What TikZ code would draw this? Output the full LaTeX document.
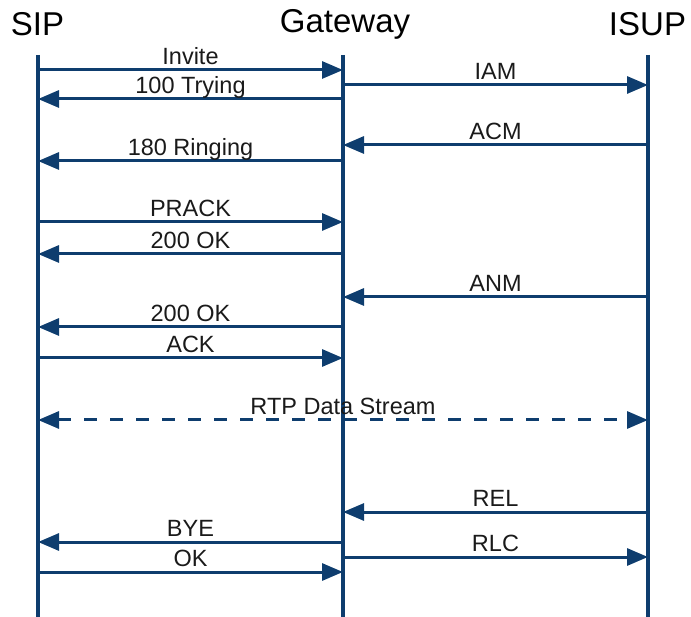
\documentclass[tikz,border=0pt]{standalone}
\usepackage{fontspec}
\setmainfont{Liberation Sans}
\usetikzlibrary{arrows.meta}
\definecolor{seqblue}{RGB}{14,61,110}
\definecolor{seqtext}{RGB}{26,26,26}
\tikzset{
  hdr/.style={font=\fontsize{33}{38}\selectfont, text=black, inner sep=0pt},
  life/.style={draw=seqblue, line width=3.5pt},
  msg/.style={draw=seqblue, line width=3pt, -{Triangle[length=21pt,width=17pt]}},
  stream/.style={draw=seqblue, line width=3pt, dash pattern=on 13pt off 13pt,
    {Triangle[length=21pt,width=17pt]}-{Triangle[length=21pt,width=17pt]}},
  lbl/.style={font=\fontsize{23.5}{28}\selectfont, text=seqtext, inner sep=0pt,
    anchor=base, midway, yshift=5.5pt}
}
\begin{document}
\begin{tikzpicture}[x=1pt,y=-1pt]
\useasboundingbox (0,0) rectangle (691,617);

% participants
\node[hdr] (sip) at (37.5,24) {SIP};
\node[hdr] (gw)  at (345,24)  {Gateway};
\node[hdr] (isup) at (647.5,24) {ISUP};

% lifelines
\coordinate (sTop) at (38,55);   \coordinate (sBot) at (38,617);
\coordinate (gTop) at (343,55);  \coordinate (gBot) at (343,617);
\coordinate (iTop) at (648,55);  \coordinate (iBot) at (648,617);
\draw[life] (sTop) -- (sBot);
\draw[life] (gTop) -- (gBot);
\draw[life] (iTop) -- (iBot);

% message anchor points on the lifelines
\foreach \n/\y in {1/70,2/85,3/99,4/145,5/161,6/222,7/254,8/297,9/327,10/358,
                   11/420,12/512,13/542,14/557,15/572}{
  \coordinate (s\n) at (38,\y);
  \coordinate (g\n) at (343,\y);
  \coordinate (i\n) at (648,\y);
}

% call setup
\draw[msg] (s1) -- (g1) node[lbl] {Invite};
\draw[msg] (g2) -- (i2) node[lbl] {IAM};
\draw[msg] (g3) -- (s3) node[lbl] {100 Trying};
\draw[msg] (i4) -- (g4) node[lbl] {ACM};
\draw[msg] (g5) -- (s5) node[lbl] {180 Ringing};
\draw[msg] (s6) -- (g6) node[lbl] {PRACK};
\draw[msg] (g7) -- (s7) node[lbl] {200 OK};
\draw[msg] (i8) -- (g8) node[lbl] {ANM};
\draw[msg] (g9) -- (s9) node[lbl] {200 OK};
\draw[msg] (s10) -- (g10) node[lbl] {ACK};

% media
\draw[stream] (s11) -- (i11) node[lbl] {RTP Data Stream};

% teardown
\draw[msg] (i12) -- (g12) node[lbl] {REL};
\draw[msg] (g13) -- (s13) node[lbl] {BYE};
\draw[msg] (g14) -- (i14) node[lbl] {RLC};
\draw[msg] (s15) -- (g15) node[lbl] {OK};
\end{tikzpicture}
\end{document}
